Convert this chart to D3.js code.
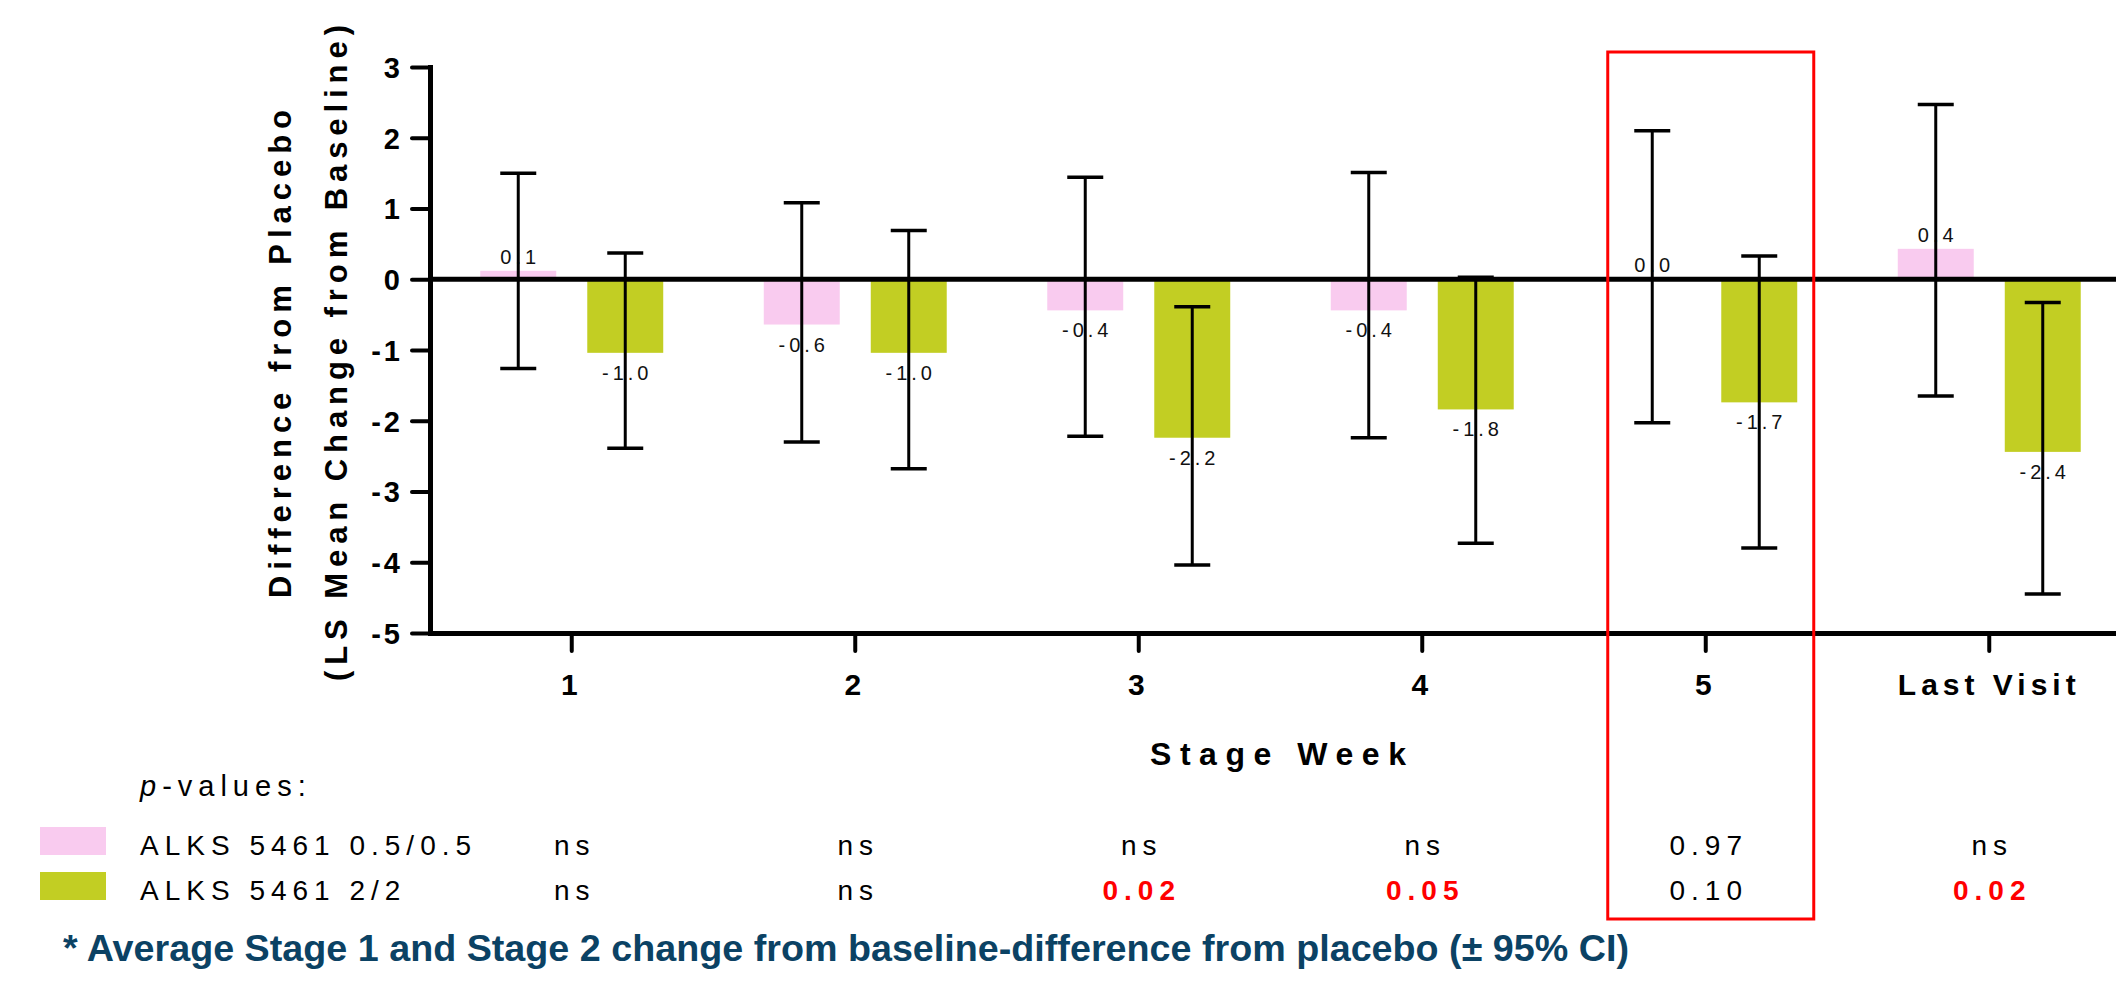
<!DOCTYPE html>
<html>
<head>
<meta charset="utf-8">
<script src="https://cdn.jsdelivr.net/npm/d3@7"></script>
<style>
  html, body { margin: 0; padding: 0; background: #fff; }
  svg { display: block; font-family: "Liberation Sans", Arial, sans-serif; }
</style>
</head>
<body>
<div id="chart"></div>
<script>
// ---------- data ----------
const weeks = ["1", "2", "3", "4", "5", "Last Visit"];
const seriesNames = ["ALKS 5461 0.5/0.5", "ALKS 5461 2/2"];
const seriesColors = ["#f9cbef", "#c2ce23"];

// LS mean difference from placebo
const lowDose  = [0.12, -0.64, -0.44, -0.44, 0.0, 0.43];
const highDose = [-1.04, -1.04, -2.24, -1.84, -1.74, -2.44];

// 95% CI
const lowCiLo  = [-1.26, -2.30, -2.22, -2.24, -2.03, -1.65];
const lowCiHi  = [1.50, 1.08, 1.44, 1.51, 2.10, 2.47];
const highCiLo = [-2.39, -2.68, -4.04, -3.73, -3.80, -4.45];
const highCiHi = [0.37, 0.69, -0.39, 0.03, 0.33, -0.33];

// p-values per week
const pLow  = ["ns", "ns", "ns", "ns", "0.97", "ns"];
const pHigh = ["ns", "ns", "0.02", "0.05", "0.10", "0.02"];

const yTicks = [-5, -4, -3, -2, -1, 0, 1, 2, 3];
const highlightWeek = "5";

// ---------- setup ----------
const W = 2116, H = 981;
const fmtLocale = d3.formatLocale({ decimal: ".", thousands: ",", grouping: [3], currency: ["", ""], minus: "-" });
const fmt1 = fmtLocale.format(".1f");
const fmt0 = fmtLocale.format("d");

const svg = d3.select("#chart").append("svg").attr("width", W).attr("height", H);
svg.append("rect").attr("width", W).attr("height", H).attr("fill", "#fff");

const x = d3.scaleBand().domain(weeks).range([430, 2131]).padding(0);
const inner = d3.scaleBand().domain([0, 1]).range([-107, 107]).paddingInner(0.29).paddingOuter(0.145);
const y = d3.scaleLinear().domain([-5, 3]).range([633, 67]);

const series = [
  { name: seriesNames[0], color: seriesColors[0], vals: lowDose, lo: lowCiLo, hi: lowCiHi },
  { name: seriesNames[1], color: seriesColors[1], vals: highDose, lo: highCiLo, hi: highCiHi }
];

const rows = [];
series.forEach((s, si) => {
  weeks.forEach((w, i) => {
    rows.push({ week: w, si: si, v: s.vals[i], lo: s.lo[i], hi: s.hi[i], color: s.color,
      cx: x(w) + x.bandwidth() / 2 + inner(si) + inner.bandwidth() / 2 });
  });
});

// ---------- bars ----------
svg.append("g").selectAll("rect").data(rows).enter().append("rect")
  .attr("x", d => d.cx - inner.bandwidth() / 2)
  .attr("y", d => Math.min(y(d.v), y(0)))
  .attr("width", inner.bandwidth())
  .attr("height", d => Math.abs(y(d.v) - y(0)))
  .attr("fill", d => d.color);

// ---------- axes ----------
const yAxis = svg.append("g").attr("transform", "translate(430,0)")
  .call(d3.axisLeft(y).tickValues(yTicks).tickSize(18).tickPadding(9).tickSizeOuter(0).tickFormat(fmt0));
const xAxis = svg.append("g").attr("transform", "translate(0,633)")
  .call(d3.axisBottom(x).tickSize(18).tickPadding(23).tickSizeOuter(0));

[yAxis, xAxis].forEach(a => {
  a.select(".domain").attr("stroke", "#000").attr("stroke-width", 5).attr("stroke-linecap", "square");
  a.selectAll(".tick line").attr("stroke", "#000").attr("stroke-width", 4).attr("stroke-linecap", "round");
  a.selectAll(".tick text").attr("fill", "#000").style("font-weight", "bold");
});
yAxis.selectAll(".tick text").style("font-size", "29px").style("letter-spacing", "3px").attr("dy", "0.36em");
xAxis.selectAll(".tick text").style("font-size", "30px").style("letter-spacing", "5px");

// zero line
svg.append("line")
  .attr("x1", 430).attr("x2", W).attr("y1", y(0)).attr("y2", y(0))
  .attr("stroke", "#000").attr("stroke-width", 5);

// ---------- value labels ----------
svg.append("g").selectAll("text").data(rows).enter().append("text")
  .attr("x", d => d.cx + 2)
  .attr("y", d => d.v >= 0 ? y(d.v) - 7 : y(d.v) + 27)
  .attr("text-anchor", "middle")
  .style("font-size", "20px").style("letter-spacing", "4px")
  .attr("fill", "#111")
  .text(d => fmt1(d.v));

// ---------- error bars ----------
const eb = svg.append("g").attr("stroke", "#000");
eb.selectAll("line.whisker").data(rows).enter().append("line")
  .attr("class", "whisker")
  .attr("x1", d => d.cx).attr("x2", d => d.cx)
  .attr("y1", d => y(d.hi)).attr("y2", d => y(d.lo))
  .attr("stroke-width", 3);
["hi", "lo"].forEach(k => {
  eb.selectAll("line.cap-" + k).data(rows).enter().append("line")
    .attr("class", "cap-" + k)
    .attr("x1", d => d.cx - 18).attr("x2", d => d.cx + 18)
    .attr("y1", d => y(d[k])).attr("y2", d => y(d[k]))
    .attr("stroke-width", 3.5);
});

// ---------- titles ----------
const yTitle = svg.append("g").style("font-weight", "bold").attr("fill", "#000").style("font-size", "31px");
yTitle.append("text")
  .attr("transform", "translate(291,354) rotate(-90)")
  .attr("text-anchor", "middle")
  .attr("textLength", 488).attr("lengthAdjust", "spacing")
  .text("Difference from  Placebo");
yTitle.append("text")
  .attr("transform", "translate(347,353) rotate(-90)")
  .attr("text-anchor", "middle")
  .attr("textLength", 656).attr("lengthAdjust", "spacing")
  .text("(LS Mean Change from Baseline)");

svg.append("text")
  .attr("x", 1278).attr("y", 765)
  .attr("text-anchor", "middle")
  .style("font-weight", "bold").style("font-size", "32px")
  .attr("textLength", 256).attr("lengthAdjust", "spacing")
  .text("Stage Week");

// ---------- p-value table ----------
const pv = svg.append("text").attr("x", 140).attr("y", 796)
  .style("font-size", "29px").style("letter-spacing", "6px");
pv.append("tspan").style("font-style", "italic").text("p");
pv.append("tspan").text("-values:");

const rowY = [855, 900];
series.forEach((s, si) => {
  svg.append("rect").attr("x", 40).attr("y", rowY[si] - 28).attr("width", 66).attr("height", 28).attr("fill", s.color);
  svg.append("text").attr("x", 140).attr("y", rowY[si])
    .style("font-size", "28px").style("letter-spacing", "6px")
    .text(s.name);
});

const isSig = p => !isNaN(+p) && +p <= 0.05;
[pLow, pHigh].forEach((ps, si) => {
  svg.append("g").selectAll("text").data(ps).enter().append("text")
    .attr("x", (p, i) => x(weeks[i]) + x.bandwidth() / 2 + 3)
    .attr("y", rowY[si])
    .attr("text-anchor", "middle")
    .style("font-size", "28px").style("letter-spacing", "6px")
    .style("font-weight", p => isSig(p) ? "bold" : "normal")
    .attr("fill", p => isSig(p) ? "#ff0000" : "#000")
    .text(p => p);
});

// highlight box round week 5
const hx = x(highlightWeek) + x.bandwidth() / 2;
svg.append("rect")
  .attr("x", hx - 98).attr("y", 52)
  .attr("width", 206).attr("height", 867)
  .attr("fill", "none").attr("stroke", "#ff0000").attr("stroke-width", 3);

// footnote
svg.append("text")
  .attr("x", 63).attr("y", 961)
  .style("font-weight", "bold").style("font-size", "37px")
  .attr("fill", "#0b4264")
  .attr("textLength", 1566).attr("lengthAdjust", "spacingAndGlyphs")
  .text("* Average Stage 1 and Stage 2 change from baseline-difference from placebo (\u00b1 95% CI)");
</script>
</body>
</html>
